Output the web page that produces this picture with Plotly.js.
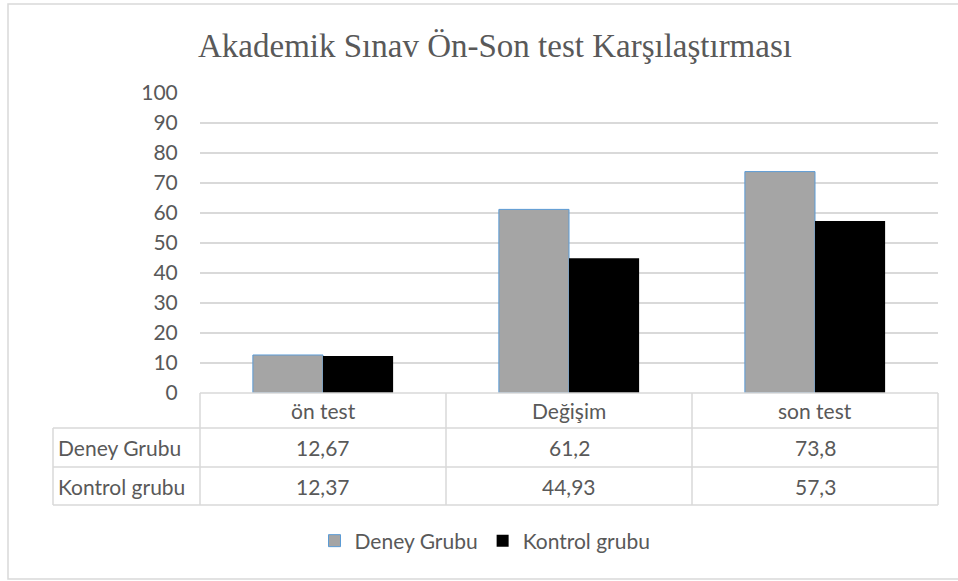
<!DOCTYPE html>
<html>
<head>
<meta charset="utf-8">
<script src="https://cdn.plot.ly/plotly-3.0.1.min.js"></script>
<style>html,body{margin:0;padding:0;background:#fff;}#chart{width:958px;height:581px;}</style>
</head>
<body>
<div id="chart"></div>
<script>
const categories = ['ön test', 'Değişim', 'son test'];
const seriesNames = ['Deney Grubu', 'Kontrol grubu'];
const deneyValues = [12.67, 61.2, 73.8];
const kontrolValues = [12.37, 44.93, 57.3];
const yTicks = [0, 10, 20, 30, 40, 50, 60, 70, 80, 90, 100];

const W = 958, H = 581;
const mL = 200, mR = 20, mT = 93, mB = 188;
const plotW = W - mL - mR, plotH = H - mT - mB;
const px2x = p => (p - mL) / plotW;
const py2y = p => (H - mB - p) / plotH;

const textColor = '#595959';
const fontFam = 'Lato, Carlito, Calibri, sans-serif';
const gridCol = '#d9d9d9';
const fs = 21;

const fmt = v => String(v).replace('.', ',');

const traces = [
  {type: 'bar', name: seriesNames[0], x: categories, y: deneyValues,
   marker: {color: '#a5a5a5', line: {color: '#5b9bd5', width: 1}}, hoverinfo: 'none'},
  {type: 'bar', name: seriesNames[1], x: categories, y: kontrolValues,
   marker: {color: '#000000', line: {color: '#000000', width: 0}}, hoverinfo: 'none'}
];

// Table geometry (pixel -> paper)
const yHeadTop = 0;
const yRow1Top = py2y(428);
const yRow2Top = py2y(467);
const yBottom = py2y(505);
const xLabelLeft = px2x(53);
const lineStyle = {color: gridCol, width: 1.5};

const shapes = [];
const hline = (x0, x1, y) => shapes.push({type: 'line', xref: 'paper', yref: 'paper', x0: x0, x1: x1, y0: y, y1: y, line: lineStyle, layer: 'above'});
const vline = (x, y0, y1) => shapes.push({type: 'line', xref: 'paper', yref: 'paper', x0: x, x1: x, y0: y0, y1: y1, line: lineStyle, layer: 'above'});
hline(0, 1, yHeadTop);
hline(xLabelLeft, 1, yRow1Top);
hline(xLabelLeft, 1, yRow2Top);
hline(xLabelLeft, 1, yBottom);
for (let i = 0; i <= categories.length; i++) vline(i / categories.length, yHeadTop, yBottom);
vline(xLabelLeft, yRow1Top, yBottom);
// outer chart border
shapes.push({type: 'rect', xref: 'paper', yref: 'paper', x0: px2x(8), x1: px2x(962), y0: py2y(4), y1: py2y(579),
  line: {color: gridCol, width: 1.5}, fillcolor: 'rgba(0,0,0,0)', layer: 'below'});

const annFont = {family: fontFam, size: fs, color: textColor};
const annotations = [];
const rowY = [(yHeadTop + yRow1Top) / 2, (yRow1Top + yRow2Top) / 2, (yRow2Top + yBottom) / 2];
categories.forEach((c, i) => {
  annotations.push({xref: 'x', yref: 'paper', x: c, y: rowY[0], text: c, showarrow: false, font: annFont, xanchor: 'center', yanchor: 'middle'});
  annotations.push({xref: 'x', yref: 'paper', x: c, y: rowY[1], text: fmt(deneyValues[i]), showarrow: false, font: annFont, xanchor: 'center', yanchor: 'middle'});
  annotations.push({xref: 'x', yref: 'paper', x: c, y: rowY[2], text: fmt(kontrolValues[i]), showarrow: false, font: annFont, xanchor: 'center', yanchor: 'middle'});
});
annotations.push({xref: 'paper', yref: 'paper', x: px2x(56), y: rowY[1], text: seriesNames[0], showarrow: false, font: annFont, xanchor: 'left', yanchor: 'middle'});
annotations.push({xref: 'paper', yref: 'paper', x: px2x(56), y: rowY[2], text: seriesNames[1], showarrow: false, font: annFont, xanchor: 'left', yanchor: 'middle'});

const layout = {
  width: W, height: H, autosize: false,
  margin: {l: mL, r: mR, t: mT, b: mB, pad: 0},
  paper_bgcolor: '#ffffff', plot_bgcolor: '#ffffff',
  title: {text: 'Akademik Sınav Ön-Son test Karşılaştırması',
    font: {family: '"Liberation Serif", "Times New Roman", serif', size: 33, color: textColor},
    x: 495 / W, xanchor: 'center', xref: 'container', y: 1 - 45 / H, yanchor: 'middle', yref: 'container'},
  barmode: 'group', bargap: 0.43, bargroupgap: 0,
  showlegend: true,
  legend: {orientation: 'h', x: px2x(485), xanchor: 'center', y: py2y(541), yanchor: 'middle',
    font: {family: fontFam, size: fs, color: textColor}, traceorder: 'normal', itemclick: false},
  xaxis: {type: 'category', range: [-0.5, 2.5], showticklabels: false, showgrid: false, zeroline: false, showline: false, ticks: '', fixedrange: true},
  yaxis: {range: [0, 100], tickvals: yTicks, ticktext: yTicks.map(String), showgrid: true, gridcolor: gridCol, gridwidth: 1.5,
    zeroline: false, showline: false, ticks: 'outside', ticklen: 17, tickcolor: 'rgba(0,0,0,0)',
    tickfont: {family: fontFam, size: fs, color: textColor}, fixedrange: true},
  shapes: shapes,
  annotations: annotations
};

Plotly.newPlot('chart', traces, layout, {displayModeBar: false, staticPlot: true});
</script>
</body>
</html>
